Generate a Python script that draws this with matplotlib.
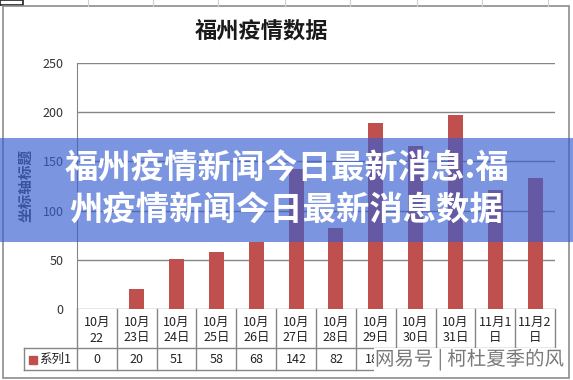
import matplotlib
matplotlib.use('Agg')
import matplotlib.pyplot as plt
from matplotlib.patches import Rectangle
from matplotlib.lines import Line2D
import matplotlib.patheffects as pe

plt.rcParams['font.family'] = ['Noto Sans CJK SC', 'DejaVu Sans']

# ---- data ----
date_line1 = ['10月', '10月', '10月', '10月', '10月', '10月', '10月', '10月', '10月', '10月', '11月1', '11月2']
date_line2 = ['22', '23日', '24日', '25日', '26日', '27日', '28日', '29日', '30日', '31日', '日', '日']
values = [0, 20, 51, 58, 68, 142, 82, 189, 166, 197, 121, 133]
series_name = '系列1'
chart_title = '福州疫情数据'
y_label = '坐标轴标题'
y_ticks = [0, 50, 100, 150, 200, 250]
banner_lines = ['福州疫情新闻今日最新消息:福', '州疫情新闻今日最新消息数据']
watermark = '网易号 | 柯杜夏季的风'

W, H = 573, 380
def fx(px):
    return px / W
def fy(py):
    return 1 - py / H

fig = plt.figure(figsize=(W / 100, H / 100), dpi=100)
fig.patch.set_facecolor('white')

# faint spreadsheet background lines outside chart
for xv in [88, 153, 218, 285, 350, 417, 482, 548]:
    fig.add_artist(Line2D([fx(xv), fx(xv)], [fy(0), fy(6)], transform=fig.transFigure,
                          color='#d0d0d0', lw=0.8))
fig.add_artist(Rectangle((0, fy(5)), fx(23), 5 / H, transform=fig.transFigure,
                         fill=False, edgecolor='#222222', lw=1.2))

# chart border
fig.add_artist(Rectangle((fx(3), fy(378)), fx(569) - fx(3), (378 - 6) / H,
                         transform=fig.transFigure, fill=False, edgecolor='#8c8c8c', lw=1.2))

ax = fig.add_axes([fx(77), fy(309), fx(555) - fx(77), fy(63) - fy(309)])
xs = list(range(len(values)))
ax.bar(xs, values, width=0.38, color='#c0504d', zorder=3)
ax.set_xlim(-0.5, len(values) - 0.5)
ax.set_ylim(0, 250)
ax.set_yticks(y_ticks)
ax.yaxis.grid(True, color='#868686', lw=1)
ax.set_axisbelow(True)
for s in ['top', 'right', 'bottom']:
    ax.spines[s].set_visible(False)
ax.spines['left'].set_color('#868686')
ax.tick_params(axis='y', length=0, pad=9.5, labelsize=9, labelcolor='#333333')
ax.set_xticks([])

# data table
tr = ax.get_xaxis_transform()
row1 = (309 - 348) / 246.0
row2 = (309 - 370) / 246.0
leg_left = (24 - 77) / 478.0
tcol = '#868686'
for i in range(len(values) + 1):
    ax.add_line(Line2D([i - 0.5, i - 0.5], [0, row2], transform=tr, color=tcol, lw=1, clip_on=False))
ax.add_line(Line2D([leg_left, 1], [row1, row1], transform=ax.transAxes, color=tcol, lw=1, clip_on=False))
ax.add_line(Line2D([leg_left, 1], [row2, row2], transform=ax.transAxes, color=tcol, lw=1, clip_on=False))
ax.add_line(Line2D([leg_left, leg_left], [row1, row2], transform=ax.transAxes, color=tcol, lw=1, clip_on=False))

y_l1 = (309 - 322) / 246.0
y_l2 = (309 - 338) / 246.0
y_v = (309 - 359.5) / 246.0
for i in xs:
    ax.text(i, y_l1, date_line1[i], transform=tr, ha='center', va='center', fontsize=9,
            color='#222222', clip_on=False)
    ax.text(i, y_l2, date_line2[i], transform=tr, ha='center', va='center', fontsize=9,
            color='#222222', clip_on=False)
    ax.text(i, y_v, str(values[i]), transform=tr, ha='center', va='center', fontsize=9,
            color='#222222', clip_on=False)
ax.add_patch(Rectangle(((29 - 77) / 478.0, y_v - 4 / 246.0), 8 / 478.0, 8 / 246.0,
                       transform=ax.transAxes, color='#c0504d', clip_on=False))
ax.text((39 - 77) / 478.0, y_v, series_name, transform=ax.transAxes, ha='left', va='center',
        fontsize=9, color='#222222', clip_on=False)

# title and axis title
fig.text(fx(261), fy(31), chart_title, ha='center', va='center', fontsize=16,
         fontweight='bold', color='#1a1a1a')
fig.text(fx(25), fy(185), y_label, rotation=90, ha='center', va='center', fontsize=10.5,
         fontweight='bold', color='#404040')

# watermark (covers the right part of the value row, as in the reference)
fig.text(fx(375), fy(360), watermark, ha='left', va='center', fontsize=14, color='#7a7a7a',
         zorder=12, bbox=dict(facecolor='white', edgecolor='none', pad=0.5),
         path_effects=[pe.withStroke(linewidth=2, foreground='white')])

# banner overlay
fig.add_artist(Rectangle((0, fy(242)), 1, (242 - 138) / H, transform=fig.transFigure,
                         facecolor=(55 / 255, 94 / 255, 208 / 255), alpha=0.66,
                         edgecolor='none', zorder=10))
fig.text(fx(287), fy(169), banner_lines[0], ha='center', va='center', fontsize=24,
         fontweight='bold', color='white', zorder=11)
fig.text(fx(286), fy(211), banner_lines[1], ha='center', va='center', fontsize=24,
         fontweight='bold', color='white', zorder=11)

fig.savefig('out.png', dpi=100)
